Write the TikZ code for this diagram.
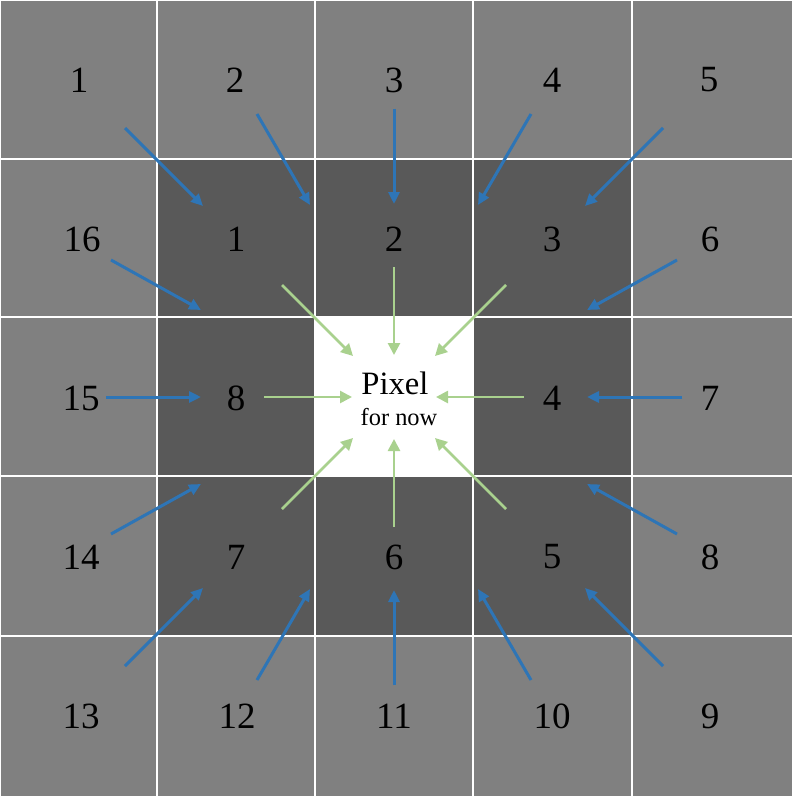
\documentclass[tikz,border=0pt]{standalone}
\usepackage{fontspec}
\setmainfont{Liberation Serif}
\usetikzlibrary{arrows.meta,calc}

\definecolor{outergray}{RGB}{128,128,128}
\definecolor{innergray}{RGB}{89,89,89}
\definecolor{arrowblue}{RGB}{46,117,182}
\definecolor{arrowgreen}{RGB}{169,209,142}

\tikzset{
  gridline/.style={draw=white, line width=1pt},
  num/.style={inner sep=0pt, font=\fontsize{18.5}{20}\selectfont},
  bluearrow/.style={-{Triangle[length=6pt,width=5.5pt]}, line width=1.5pt, draw=arrowblue},
  greenarrow/.style={-{Triangle[length=6pt,width=6pt]}, line width=1.3pt, draw=arrowgreen},
}

\begin{document}
\begin{tikzpicture}[x=0.5pt,y=-0.5pt]
  \useasboundingbox (0,0) rectangle (792,797);

  % cells
  \fill[outergray] (0,0) rectangle (792,797);
  \fill[innergray] (157,159) rectangle (632,636);
  \fill[white] (315,317) rectangle (473,476);
  \foreach \x in {157,315,473,632}
    \draw[gridline] (\x,0) -- (\x,797);
  \foreach \y in {159,317,476,636}
    \draw[gridline] (0,\y) -- (792,\y);
  \draw[gridline] (0,797) -- (0,0) -- (792,0);
  \draw[gridline] (0,797) -- (792,797);

  % outer ring
  \node[num] (o1) at (79,80) {1};
  \node[num] (o2) at (235,80) {2};
  \node[num] (o3) at (394,80) {3};
  \node[num] (o4) at (552,80) {4};
  \node[num] (o5) at (709,80) {5};
  \node[num] (o6) at (710,239) {6};
  \node[num] (o7) at (710,398) {7};
  \node[num] (o8) at (710,557) {8};
  \node[num] (o9) at (710,716) {9};
  \node[num] (o10) at (552,716) {10};
  \node[num] (o11) at (394,716) {11};
  \node[num] (o12) at (237,716) {12};
  \node[num] (o13) at (81,716) {13};
  \node[num] (o14) at (81,557) {14};
  \node[num] (o15) at (81,398) {15};
  \node[num] (o16) at (82,239) {16};

  % inner ring
  \node[num] (i1) at (236,239) {1};
  \node[num] (i2) at (394,239) {2};
  \node[num] (i3) at (552,239) {3};
  \node[num] (i4) at (552,398) {4};
  \node[num] (i5) at (552,557) {5};
  \node[num] (i6) at (394,557) {6};
  \node[num] (i7) at (236,557) {7};
  \node[num] (i8) at (236,398) {8};

  % centre pixel
  \coordinate (mid) at (394,397);
  \node[inner sep=0pt, font=\fontsize{16.3}{18}\selectfont] (pix) at (395,383) {Pixel};
  \node[inner sep=0pt, font=\fontsize{12.2}{14}\selectfont] (fornow) at (399,417) {for now};

  % outer -> inner
  \foreach \n/\tx/\ty/\hx/\hy in {1/-269/-269/-191/-191, 2/-137/-283/-84/-192,
      3/0/-288/0/-193, 4/137/-283/84/-192, 5/269/-269/191/-191,
      6/283/-137/193/-87, 7/288/0/193/0, 8/283/137/193/87,
      9/269/269/191/191, 10/137/283/84/192, 11/0/288/0/193,
      12/-137/283/-84/192, 13/-269/269/-191/191, 14/-283/137/-193/87,
      15/-288/0/-193/0, 16/-283/-137/-193/-87}{
    \coordinate (b\n t) at ($(mid)+(\tx,\ty)$);
    \coordinate (b\n h) at ($(mid)+(\hx,\hy)$);
    \draw[bluearrow] (b\n t) -- (b\n h);
  }

  % inner -> pixel
  \foreach \n/\tx/\ty/\hx/\hy in {1/-112/-112/-41/-41, 2/0/-130/0/-42,
      3/112/-112/41/-41, 4/130/0/42/0, 5/112/112/41/41,
      6/0/130/0/42, 7/-112/112/-41/41, 8/-130/0/-42/0}{
    \coordinate (g\n t) at ($(mid)+(\tx,\ty)$);
    \coordinate (g\n h) at ($(mid)+(\hx,\hy)$);
    \draw[greenarrow] (g\n t) -- (g\n h);
  }
\end{tikzpicture}
\end{document}
